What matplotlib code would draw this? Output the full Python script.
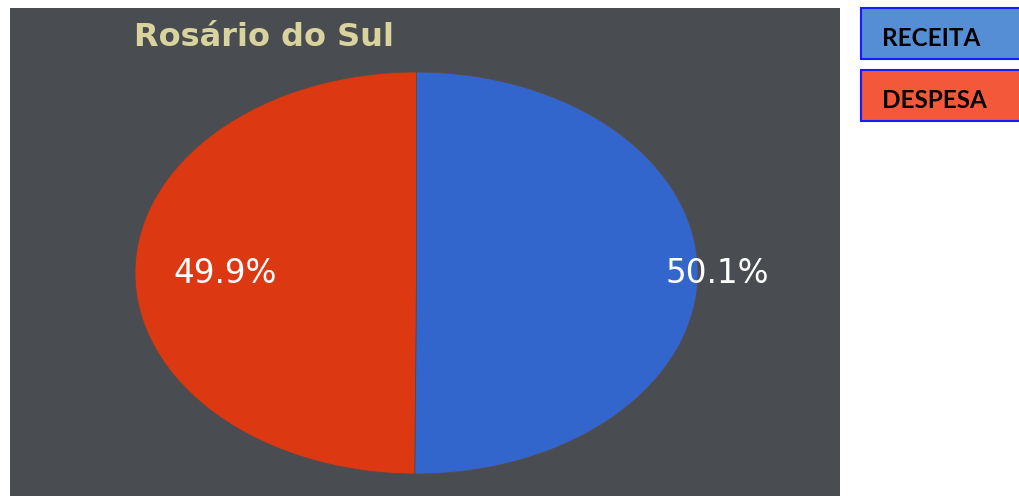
import matplotlib

matplotlib.use("Agg")
import matplotlib.pyplot as plt
from matplotlib.patches import Rectangle

# data
categories = ["RECEITA", "DESPESA"]
shares = [50.1, 49.9]
colors = ["#3366cc", "#dc3912"]
legend_fill = ["#558ed5", "#f4583a"]
title = "Rosário do Sul"

W, H = 1019, 496
fig = plt.figure(figsize=(W / 100, H / 100), dpi=100)
fig.patch.set_facecolor("white")


def fx(px):
    return px / W


def fy(py):
    return 1 - py / H


# dark chart panel
fig.patches.append(Rectangle((fx(10), 0), fx(840) - fx(10), fy(8),
                             transform=fig.transFigure, facecolor="#494c50",
                             edgecolor="none", zorder=-1))

# pie axes (stretched ellipse like the reference)
ax = fig.add_axes([fx(135), fy(474), fx(698) - fx(135), (474 - 72) / H])
ax.set_zorder(2)
ax.set_facecolor("none")
wedges, _, autotexts = ax.pie(
    shares, colors=colors, startangle=90, counterclock=False,
    autopct="%.1f%%", wedgeprops=dict(edgecolor="#5a4a45", linewidth=0.6),
    textprops=dict(color="white", fontsize=23.5, family="DejaVu Sans"),
)
ax.set_aspect("auto")
ax.set_xlim(-1, 1)
ax.set_ylim(-1, 1)
ax.axis("off")
label_pos = [(1.07, 0.0), (-0.68, 0.0)]
for t, pos in zip(autotexts, label_pos):
    t.set_position(pos)
    t.set_ha("center")
    t.set_va("center")

fig.text(fx(264), fy(37), title, ha="center", va="center", fontsize=23,
         fontweight="bold", color="#d9d49d", family="DejaVu Sans", zorder=3)

# legend boxes
box_tops = [8, 70]
for name, fill, top in zip(categories, legend_fill, box_tops):
    fig.patches.append(Rectangle((fx(861), fy(top + 51)), fx(1030) - fx(861), 51 / H,
                                 transform=fig.transFigure, facecolor=fill,
                                 edgecolor="#1a1aff", linewidth=1.5, zorder=1))
    fig.text(fx(882), fy(top + 30), name, ha="left", va="center", fontsize=17.5,
             fontweight="bold", color="black", family="Lato", zorder=3)

fig.savefig("out.png", dpi=100)
